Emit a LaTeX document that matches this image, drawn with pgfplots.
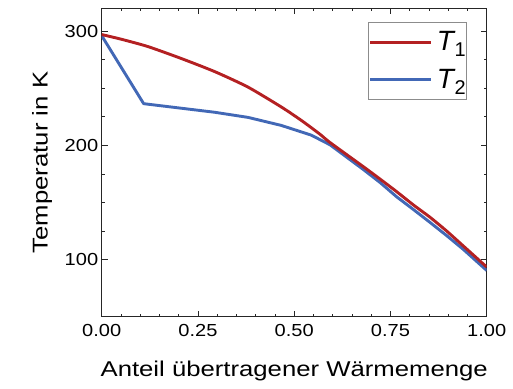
\documentclass[border=0pt]{standalone}
\usepackage{fontspec}
\setmainfont{Liberation Sans}
\usepackage{graphicx}
\usepackage{pgfplots}
\pgfplotsset{compat=1.18}
\definecolor{tred}{RGB}{180,32,34}
\definecolor{tblue}{RGB}{66,104,182}
\begin{document}
\begin{tikzpicture}
\path[use as bounding box] (-101.7bp,-72.3bp) rectangle (411.3bp,316.7bp);
\begin{axis}[
  at={(0,0)}, anchor=south west,
  scale only axis, width=385bp, height=308.4bp,
  xmin=0, xmax=1, ymin=50, ymax=320,
  xtick={0,0.25,0.5,0.75,1}, ytick={100,200,300},
  minor x tick num=4, minor y tick num=3,
  tick align=inside, tick pos=both,
  major tick length=6bp, minor tick length=3bp,
  every tick/.style={black!85, line width=0.7bp},
  axis line style={black!85, line width=0.8bp},
  /pgf/number format/assume math mode=true,
  every tick label/.append style={font=\fontsize{17.5}{17.5}\selectfont},
  xticklabel={\scalebox{1.15}[1]{\pgfmathprintnumber[fixed,fixed zerofill,precision=2]{\tick}}},
  yticklabel={\scalebox{1.15}[1]{\pgfmathprintnumber{\tick}}},
  xticklabel style={yshift=-4bp},
  xlabel={\scalebox{1.2}[1]{Anteil übertragener Wärmemenge}},
  ylabel={\scalebox{1.2}[1]{Temperatur in K}},
  label style={font=\fontsize{21.5}{21.5}\selectfont},
  xlabel style={at={(axis description cs:0.5,-0.1946)}, anchor=base},
  ylabel style={at={(axis description cs:-0.1403,0.5)}, anchor=base},
  legend style={at={(0.9488,0.9556)}, anchor=north east, draw=black!45, line width=0.6bp,
    inner xsep=1bp, inner ysep=9.5bp, font=\fontsize{28}{28}\selectfont,
    nodes={inner sep=0pt}, row sep=17bp, column sep=4bp},
  legend cell align=left,
  legend image code/.code={\draw[#1] (0bp,0bp) -- (61bp,0bp);},
]
\addplot[tblue, line width=2.9bp, line join=round, forget plot] coordinates {
(0,296) (0.109,236.5) (0.207,232.5) (0.293,229) (0.38,224.5) (0.466,217.5)
(0.544,209) (0.593,200.5) (0.679,179) (0.723,167.5) (0.766,155) (0.809,144)
(0.853,132.5) (0.896,121) (0.939,109) (1.0,90.5)
};
\addplot[tred, line width=2.9bp, line join=round, smooth, tension=0.4] coordinates {
(0,297) (0.05,293) (0.12,286.5) (0.207,276) (0.294,264.5) (0.38,251)
(0.467,233.5) (0.52,221.5) (0.566,210) (0.593,202.5) (0.679,181.5) (0.723,170.5)
(0.766,159.5) (0.809,148) (0.853,137) (0.896,125) (0.939,112) (1.0,93.5)
};
\addlegendentry{\textit{T}\kern-1bp\raisebox{-5.5bp}{\fontsize{20}{20}\selectfont 1}}
\addlegendimage{tblue, line width=2.9bp}
\addlegendentry{\textit{T}\kern-1bp\raisebox{-5.5bp}{\fontsize{20}{20}\selectfont 2}}
\end{axis}
\end{tikzpicture}
\end{document}
